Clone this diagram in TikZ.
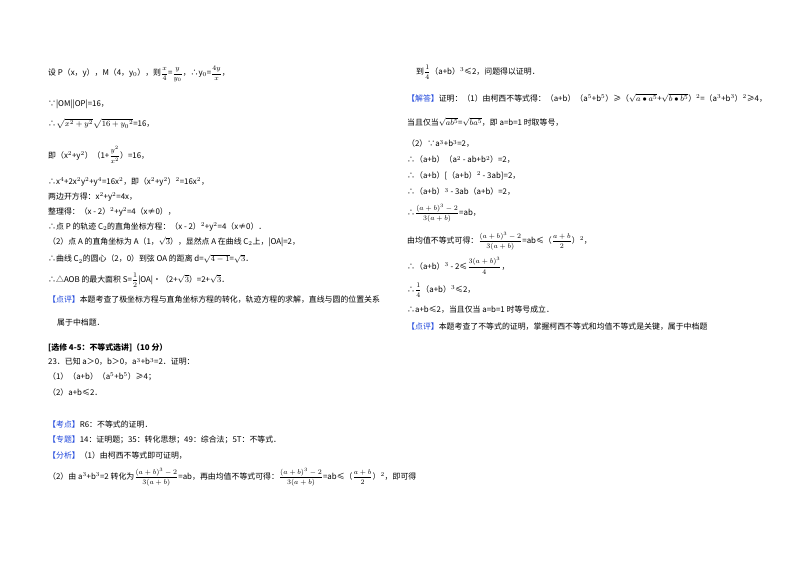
\documentclass[tikz,border=0pt]{standalone}
\usepackage{amsmath}
\usepackage{fontspec}
\setmainfont{Noto Sans CJK SC}
\definecolor{tagblue}{RGB}{30,70,220}
\newcommand{\tg}[1]{\textcolor{tagblue}{【#1】}}
\newcommand{\fr}[2]{{\scriptsize$\dfrac{#1}{#2}$}}
\begin{document}
\begin{tikzpicture}[x=1pt,y=-1pt,t/.style={anchor=west,inner sep=0pt,font=\fontsize{7.9}{9}\selectfont}]
\useasboundingbox[fill=white] (0,0) rectangle (800,565);
% left column
\node[t] (l1) at (48,74) {设 P（x，y），M（4，y$_0$），则\fr{x}{4}=\fr{y}{y_0}，∴y$_0$=\fr{4y}{x}，};
\node[t] (l2) at (48,104) {∵|OM||OP|=16，};
\node[t] (l3) at (48,124) {∴$\sqrt{x^2+y^2}\sqrt{16+{y_0}^2}$=16，};
\node[t] (l4) at (48,155) {即（x$^2$+y$^2$）（1+\fr{y^2}{x^2}）=16，};
\node[t] (l5) at (48,182) {∴x$^4$+2x$^2$y$^2$+y$^4$=16x$^2$，即（x$^2$+y$^2$）$^2$=16x$^2$，};
\node[t] (l6) at (48,197) {两边开方得：x$^2$+y$^2$=4x，};
\node[t] (l7) at (48,212) {整理得：（x - 2）$^2$+y$^2$=4（x≠0），};
\node[t] (l8) at (48,227) {∴点 P 的轨迹 C$_2$的直角坐标方程：（x - 2）$^2$+y$^2$=4（x≠0）．};
\node[t] (l9) at (48,242) {（2）点 A 的直角坐标为 A（1，$\sqrt{3}$），显然点 A 在曲线 C$_2$上，|OA|=2，};
\node[t] (l10) at (48,259) {∴曲线 C$_2$的圆心（2，0）到弦 OA 的距离 d=$\sqrt{4-1}$=$\sqrt{3}$．};
\node[t] (l11) at (48,280) {∴△AOB 的最大面积 S=\fr{1}{2}|OA|•（2+$\sqrt{3}$）=2+$\sqrt{3}$．};
\node[t] (l12) at (48,300) {\tg{点评}本题考查了极坐标方程与直角坐标方程的转化，轨迹方程的求解，直线与圆的位置关系};
\node[t] (l13) at (57,322) {属于中档题．};
\node[t] (l14) at (48,348) {\textbf{[选修 4-5：不等式选讲]（10 分）}};
\node[t] (l15) at (48,362) {23．已知 a＞0，b＞0，a$^3$+b$^3$=2．证明：};
\node[t] (l16) at (48,377) {（1）（a+b）（a$^5$+b$^5$）≥4；};
\node[t] (l17) at (48,392) {（2）a+b≤2．};
\node[t] (l18) at (48,424) {\tg{考点}R6：不等式的证明．};
\node[t] (l19) at (48,440) {\tg{专题}14：证明题；35：转化思想；49：综合法；5T：不等式．};
\node[t] (l20) at (48,456) {\tg{分析}（1）由柯西不等式即可证明，};
\node[t] (l21) at (48,477) {（2）由 a$^3$+b$^3$=2 转化为\fr{(a+b)^3-2}{3(a+b)}=ab，再由均值不等式可得：\fr{(a+b)^3-2}{3(a+b)}=ab≤（\fr{a+b}{2}）$^2$，即可得};
% right column
\node[t] (r1) at (416,72) {到\fr{1}{4}（a+b）$^3$≤2，问题得以证明．};
\node[t] (r2) at (407,98) {\tg{解答}证明：（1）由柯西不等式得：（a+b）（a$^5$+b$^5$）≥（$\sqrt{a\bullet a^5}$+$\sqrt{b\bullet b^5}$）$^2$=（a$^3$+b$^3$）$^2$≥4，};
\node[t] (r3) at (407,122) {当且仅当$\sqrt{ab^5}$=$\sqrt{ba^5}$，即 a=b=1 时取等号，};
\node[t] (r4) at (407,144) {（2）∵a$^3$+b$^3$=2，};
\node[t] (r5) at (407,160) {∴（a+b）（a$^2$ - ab+b$^2$）=2，};
\node[t] (r6) at (407,176) {∴（a+b）[（a+b）$^2$ - 3ab]=2，};
\node[t] (r7) at (407,192) {∴（a+b）$^3$ - 3ab（a+b）=2，};
\node[t] (r8) at (407,213) {∴\fr{(a+b)^3-2}{3(a+b)}=ab，};
\node[t] (r9) at (407,241) {由均值不等式可得：\fr{(a+b)^3-2}{3(a+b)}=ab≤（\fr{a+b}{2}）$^2$，};
\node[t] (r10) at (407,266) {∴（a+b）$^3$ - 2≤\fr{3(a+b)^3}{4}，};
\node[t] (r11) at (407,290) {∴\fr{1}{4}（a+b）$^3$≤2，};
\node[t] (r12) at (407,310) {∴a+b≤2，当且仅当 a=b=1 时等号成立．};
\node[t] (r13) at (407,327) {\tg{点评}本题考查了不等式的证明，掌握柯西不等式和均值不等式是关键，属于中档题};
\end{tikzpicture}
\end{document}
